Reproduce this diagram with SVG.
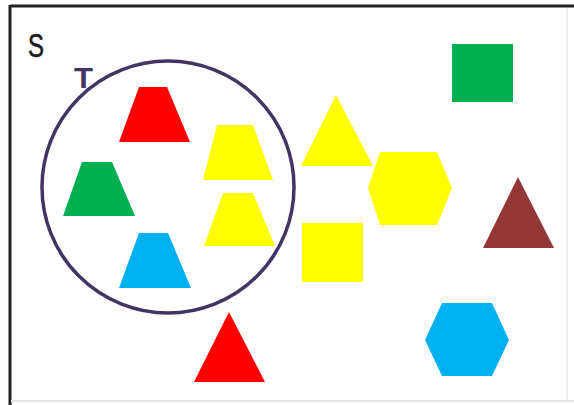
<svg xmlns="http://www.w3.org/2000/svg" width="574" height="405" viewBox="0 0 574 405">
<style>
.lbl{font-family:"Liberation Sans",Arial,sans-serif}
.red{fill:#ff0000}.yel{fill:#ffff00}.grn{fill:#00b050}.blu{fill:#00b0f0}.brn{fill:#953735}
</style>
<rect width="574" height="405" fill="#ffffff"/>
<g id="frame">
<line x1="10" y1="6" x2="574" y2="6" stroke="#222" stroke-width="3"/>
<line x1="10" y1="5" x2="10" y2="405" stroke="#222" stroke-width="3"/>
<line x1="567" y1="8" x2="567" y2="400" stroke="#ddd" stroke-width="1"/>
<line x1="11" y1="401" x2="574" y2="401" stroke="#e4e4e4" stroke-width="2"/>
</g>
<g id="label-S"><text class="lbl" x="28" y="57" font-size="34" fill="#1a1a1a" stroke="#1a1a1a" stroke-width="0.6" textLength="16" lengthAdjust="spacingAndGlyphs">S</text></g>
<g id="set-T">
<circle cx="168" cy="187" r="126" fill="none" stroke="#433563" stroke-width="3.5"/>
<text class="lbl" x="74" y="88" font-size="30" font-weight="bold" fill="#433563" textLength="19" lengthAdjust="spacingAndGlyphs">T</text>
</g>
<g id="red-trapezoid"><polygon class="red" points="139,87 167,87 190,142 119,142"/></g>
<g id="yellow-trapezoid-1"><polygon class="yel" points="217,125 253,125 273,180 203,180"/></g>
<g id="green-trapezoid"><polygon class="grn" points="82,162 112,162 135,216 63,216"/></g>
<g id="yellow-trapezoid-2"><polygon class="yel" points="223,193 253,193 275,246 204,246"/></g>
<g id="blue-trapezoid"><polygon class="blu" points="139,233 168,233 191,288 119,288"/></g>
<g id="red-triangle"><polygon class="red" points="229,312 265,382 194,382"/></g>
<g id="yellow-triangle"><polygon class="yel" points="336,95 373,166 301,166"/></g>
<g id="green-square"><rect class="grn" x="452" y="44" width="61" height="58"/></g>
<g id="yellow-hexagon"><polygon class="yel" points="380,152 437,152 452,188 437,225 380,225 368,188"/></g>
<g id="brown-triangle"><polygon class="brn" points="518,177 554,248 483,248"/></g>
<g id="yellow-square"><rect class="yel" x="302" y="223" width="61" height="59"/></g>
<g id="blue-hexagon"><polygon class="blu" points="442,303 492,303 509,340 492,376 442,376 425,340"/></g>
</svg>
